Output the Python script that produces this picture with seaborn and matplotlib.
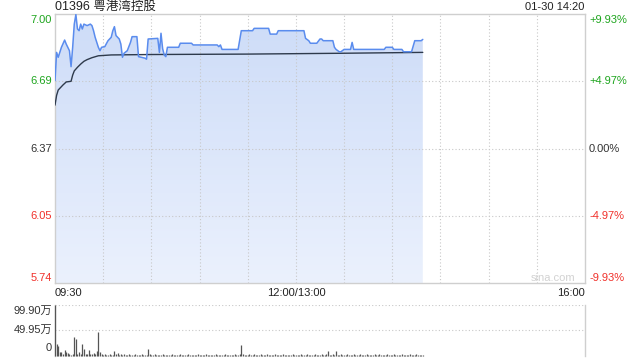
import numpy as np
import matplotlib
matplotlib.use("Agg")
import matplotlib.pyplot as plt
import matplotlib.transforms as mtransforms
from matplotlib.patches import Polygon
from matplotlib.colors import LinearSegmentedColormap
import seaborn as sns

# ---------------- data ----------------
title_text = "01396 粤港湾控股"
date_text = "01-30 14:20"
prev_close = 6.37
limit_pct = 9.93
half_pct = 4.97

# price line key points (minutes since 09:30, lunch break removed)
price_minutes = [0, 1, 2, 4, 6, 7, 9, 10, 11, 12, 13, 14, 15, 16, 17, 18, 20, 22, 23, 24,
                 25, 27, 28, 29, 31, 33, 35, 36, 37, 38, 40, 41, 42, 43, 45, 47, 48, 51, 52, 56,
                 57, 58, 64, 65, 66, 67, 68, 69, 70, 77, 78, 85, 86, 101, 102, 103, 104, 114, 116, 123,
                 124, 133, 134, 138, 139, 155, 156, 158, 159, 163, 165, 166, 167, 173, 174, 175, 177, 178, 180, 184,
                 185, 186, 205, 206, 210, 211, 216, 217, 222, 224, 228, 229]
price_values = [6.689, 6.822, 6.799, 6.846, 6.880, 6.861, 6.830, 6.755, 6.846, 6.955, 7.000, 6.932, 6.924, 6.955, 6.932, 6.955, 6.948, 6.955, 6.948, 6.924,
                6.893, 6.846, 6.830, 6.846, 6.849, 6.877, 6.893, 6.924, 6.943, 6.901, 6.885, 6.861, 6.799, 6.818, 6.830, 6.869, 6.896, 6.896, 6.802, 6.795,
                6.790, 6.885, 6.888, 6.822, 6.912, 6.840, 6.810, 6.802, 6.846, 6.846, 6.865, 6.865, 6.857, 6.857, 6.849, 6.857, 6.836, 6.836, 6.924, 6.924,
                6.935, 6.935, 6.908, 6.908, 6.924, 6.924, 6.888, 6.877, 6.865, 6.865, 6.885, 6.885, 6.877, 6.877, 6.846, 6.836, 6.825, 6.825, 6.836, 6.836,
                6.869, 6.836, 6.836, 6.846, 6.846, 6.836, 6.836, 6.825, 6.825, 6.877, 6.877, 6.883]

# average price line key points
avg_minutes = [0, 1, 2, 5, 7, 10, 11, 12, 14, 16, 18, 20, 23, 27, 35, 60, 120, 180, 229]
avg_values = [6.574, 6.620, 6.645, 6.669, 6.683, 6.686, 6.715, 6.735, 6.752, 6.767, 6.780, 6.788, 6.797, 6.806, 6.810, 6.812, 6.814, 6.818, 6.822]

# volume per minute (万股), minutes 0..229
volumes = [99.9, 22, 18, 6.5, 6.5, 2, 10, 6.5, 4.5, 2,
           1.5, 2, 36.5, 32.5, 3.5, 6.5, 2, 22, 13, 3.5,
           3, 10, 3, 2, 4.5, 3, 8.5, 46, 6.5, 2,
           1.5, 2, 1, 1.5, 2, 1, 1.5, 8.5, 2.5, 4.5,
           1.5, 2, 1, 2.5, 1.5, 1, 2, 1.5, 1, 1.5,
           2, 1, 1.5, 1, 2, 1.5, 1, 1.5, 12, 2,
           1.5, 1, 2, 1, 1.5, 1, 1.5, 2, 1, 1.5,
           1, 1.5, 1, 2, 1.5, 1, 1.5, 1, 2, 1,
           1.5, 1, 1.5, 2, 1, 1.5, 1, 1.5, 1, 2,
           1, 1.5, 1, 1.5, 2, 1, 1.5, 1, 1, 1.5,
           2, 1, 1.5, 1, 1.5, 1, 2, 1, 1.5, 1,
           1.5, 1, 2, 1.5, 1, 2.5, 20, 2, 1, 1.5,
           1, 2, 1, 1.5, 2, 1, 1.5, 1, 2, 1,
           1.5, 1, 2, 1.5, 1, 1.5, 1, 2, 1, 1.5,
           1, 1.5, 2, 1, 1.5, 1, 1.5, 1, 2, 1,
           1.5, 1, 1.5, 2, 1, 1.5, 1, 2, 1.5, 1,
           1.5, 1, 2, 1, 1.5, 1, 2, 1, 1.5, 3,
           8, 1.5, 1, 2, 1.5, 8, 1, 1.5, 2, 1,
           1.5, 1, 2, 1, 1.5, 1, 2, 1.5, 1, 1.5,
           2, 1, 1.5, 1, 2, 1.5, 1, 1.5, 1, 2,
           1, 1.5, 2, 1, 1.5, 1, 1.5, 2, 1, 1.5,
           1, 2, 1.5, 1, 1.5, 1, 2, 1, 1.5, 1,
           1.5, 2, 1, 1.5, 1, 2, 1.5, 1, 1.5, 1]
volume_minutes = list(range(len(volumes)))
vol_max = 99.90
vol_labels = ["99.90万", "49.95万", "0"]

time_labels = ["09:30", "12:00/13:00", "16:00"]
total_minutes = 330
lunch_minute = 150

# ---------------- style ----------------
sns.set_theme(style="white")
plt.rcParams["font.family"] = ["Liberation Sans", "Noto Sans CJK SC", "DejaVu Sans"]

GREEN = "#1ea51e"
RED = "#f0302a"
DARK = "#333333"
GRID = "#c8c8c8"
BORDER = "#cfcfcf"
LINE_BLUE = "#5a8cee"
AVG = "#2e3a4c"

W, H = 640, 360
fig = plt.figure(figsize=(6.4, 3.6), dpi=100)
fig.patch.set_facecolor("white")

ax = fig.add_axes([55 / W, 1 - 283 / H, 530 / W, 269 / H])
axv = fig.add_axes([55 / W, 1 - 355.5 / H, 530 / W, 50.8 / H])

hi = prev_close * (1 + limit_pct / 100)
lo = prev_close * (1 - limit_pct / 100)
up_half = prev_close * (1 + half_pct / 100)
dn_half = prev_close * (1 - half_pct / 100)

# gradient fill under price
verts = [(price_minutes[0], lo)] + list(zip(price_minutes, price_values)) + [(price_minutes[-1], lo)]
poly = Polygon(verts, closed=True, facecolor="none", edgecolor="none", transform=ax.transData)
ax.add_patch(poly)
cmap = LinearSegmentedColormap.from_list("fill", ["#cddcf8", "#ebf1fd"])
grad = np.linspace(0, 1, 256).reshape(-1, 1)
im = ax.imshow(grad, extent=[0, total_minutes, lo, hi], aspect="auto", cmap=cmap,
               origin="upper", zorder=1, interpolation="bilinear")
im.set_clip_path(poly)

# grid
for yv in [up_half, prev_close, dn_half]:
    ax.axhline(yv, color=GRID, lw=0.8, ls=(0, (1, 2)), zorder=2)
for xm in range(30, total_minutes, 30):
    ax.axvline(xm, color=GRID, lw=0.8, ls=(0, (1, 2)), zorder=2)

sns.lineplot(x=avg_minutes, y=avg_values, ax=ax, color=AVG, linewidth=1.0, zorder=3)
sns.lineplot(x=price_minutes, y=price_values, ax=ax, color=LINE_BLUE, linewidth=1.1, zorder=4)

ax.set_xlim(0, total_minutes)
ax.set_ylim(lo, hi)
ax.set_xticks([])
ax.set_yticks([])
ax.set_xlabel("")
ax.set_ylabel("")
for s in ax.spines.values():
    s.set_color(BORDER)
    s.set_linewidth(1.0)
    s.set_visible(True)

# price labels
tl = mtransforms.blended_transform_factory(fig.transFigure, ax.transData)
left_x = 52 / W
right_x = 589 / W
price_ticks = [hi, up_half, prev_close, dn_half, lo]
pct_ticks = [limit_pct, half_pct, 0.0, -half_pct, -limit_pct]
colors = [GREEN, GREEN, DARK, RED, RED]
vas = ["top", "center", "center", "center", "bottom"]
for pv, pc, c, va in zip(price_ticks, pct_ticks, colors, vas):
    yy = pv - 0.004 if va == "top" else (pv + 0.002 if va == "bottom" else pv)
    ax.text(left_x, yy, f"{pv:.2f}", transform=tl, ha="right", va=va, fontsize=8, color=c)
    if pc > 0:
        s = f"+{pc:.2f}%"
    elif pc < 0:
        s = f"{pc:.2f}%"
    else:
        s = "0.00%"
    ax.text(right_x, yy, s, transform=tl, ha="left", va=va, fontsize=8, color=c)

# watermark
fig.text(575 / W, 1 - 278 / H, "sina.com", ha="right", va="center", fontsize=8, color="#d2d2d2")

# titles
fig.text(55 / W, 1 - 7 / H, title_text, ha="left", va="center", fontsize=9, color="#222222")
fig.text(584 / W, 1 - 7 / H, date_text, ha="right", va="center", fontsize=8, color="#222222")

# time labels
ty = 1 - 293 / H
fig.text(55 / W, ty, time_labels[0], ha="left", va="center", fontsize=8, color="#222222")
tx = mtransforms.blended_transform_factory(ax.transData, fig.transFigure)
ax.text(lunch_minute, ty, time_labels[1], transform=tx, ha="center", va="center", fontsize=8, color="#222222")
fig.text(585 / W, ty, time_labels[2], ha="right", va="center", fontsize=8, color="#222222")

# volume panel
axv.vlines(volume_minutes, 0, volumes, color="#555555", lw=0.9, clip_on=False, zorder=3)
axv.set_xlim(0, total_minutes)
axv.set_ylim(0, vol_max)
axv.axhline(vol_max, color=GRID, lw=0.8, ls=(0, (1, 2)))
axv.axhline(vol_max / 2, color=GRID, lw=0.8, ls=(0, (1, 2)))
axv.set_xticks([])
axv.set_yticks([])
axv.set_facecolor("none")
for k in ["top", "bottom"]:
    axv.spines[k].set_visible(False)
for k in ["left", "right"]:
    axv.spines[k].set_visible(True)
    axv.spines[k].set_color(BORDER)
    axv.spines[k].set_linewidth(1.0)

fig.text(52 / W, 1 - 311 / H, vol_labels[0], ha="right", va="center", fontsize=8, color=DARK)
fig.text(52 / W, 1 - 330 / H, vol_labels[1], ha="right", va="center", fontsize=8, color=DARK)
fig.text(52 / W, 1 - 348 / H, vol_labels[2], ha="right", va="center", fontsize=8, color=DARK)

fig.savefig("out.png", dpi=100, facecolor="white")
